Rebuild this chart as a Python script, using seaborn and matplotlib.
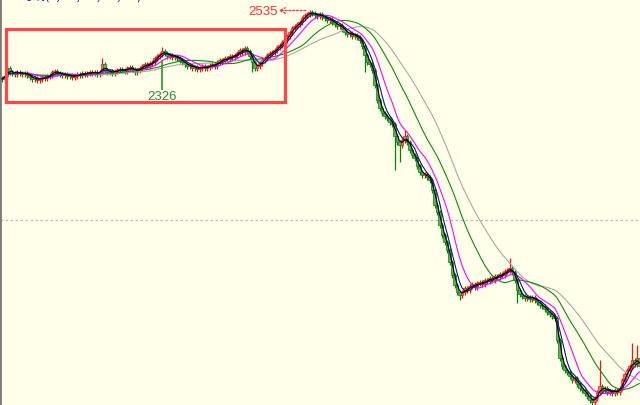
import numpy as np
import pandas as pd
import matplotlib
matplotlib.use("Agg")
import matplotlib.pyplot as plt
import matplotlib.patches as mpatches
import seaborn as sns

# ---------------- data ----------------
closes = [
    2259, 2271, 2303, 2287, 2283, 2279, 2287, 2283, 2279, 2283,
    2275, 2267, 2259, 2263, 2255, 2259, 2267, 2263, 2271, 2275,
    2287, 2291, 2283, 2279, 2275, 2279, 2271, 2275, 2267, 2271,
    2279, 2275, 2283, 2279, 2283, 2287, 2283, 2287, 2279, 2287,
    2319, 2295, 2287, 2291, 2283, 2291, 2295, 2299, 2295, 2291,
    2303, 2307, 2299, 2287, 2295, 2303, 2311, 2319, 2311, 2323,
    2327, 2343, 2351, 2359, 2371, 2363, 2351, 2355, 2347, 2351,
    2343, 2335, 2327, 2319, 2311, 2315, 2303, 2307, 2299, 2303,
    2311, 2303, 2307, 2315, 2319, 2311, 2327, 2335, 2331, 2343,
    2339, 2351, 2347, 2355, 2363, 2375, 2367, 2383, 2371, 2351,
    2327, 2303, 2311, 2323, 2335, 2343, 2355, 2363, 2367, 2375,
    2387, 2395, 2407, 2415, 2431, 2447, 2463, 2471, 2479, 2487,
    2503, 2515, 2519, 2527, 2523, 2515, 2511, 2519, 2507, 2503,
    2495, 2499, 2487, 2479, 2471, 2475, 2459, 2447, 2439, 2443,
    2431, 2435, 2427, 2415, 2391, 2355, 2327, 2319, 2295, 2235,
    2175, 2143, 2123, 2111, 2103, 2087, 2079, 2031, 2007, 1995,
    2015, 2031, 2007, 1975, 1955, 1943, 1911, 1887, 1875, 1879,
    1867, 1855, 1815, 1755, 1727, 1675, 1635, 1607, 1575, 1527,
    1475, 1435, 1407, 1395, 1407, 1423, 1415, 1431, 1439, 1427,
    1443, 1447, 1439, 1455, 1451, 1463, 1455, 1471, 1467, 1479,
    1475, 1491, 1495, 1503, 1487, 1455, 1415, 1399, 1391, 1383,
    1387, 1379, 1387, 1375, 1367, 1355, 1351, 1339, 1327, 1319,
    1311, 1303, 1215, 1143, 1111, 1095, 1087, 1071, 1055, 1063,
    1039, 1023, 1015, 1003, 991, 975, 967, 983, 1007, 1031,
    1015, 1023, 1007, 1011, 1003, 1015, 1007, 1023, 1055, 1079,
    1095, 1111, 1135, 1119, 1143, 1111,
]
first_open = 2263
spike_highs = {2: 2315, 40: 2343, 64: 2387, 97: 2391, 123: 2535, 161: 2055,
               203: 1543, 239: 1135, 252: 1203, 254: 1195}
spike_lows = {100: 2287, 145: 2287, 157: 1895, 159: 1927, 183: 1375, 206: 1363}
ma_periods = [3, 5, 10, 22, 34]
ma_colors = ["#000000", "#1010A0", "#FF00FF", "#108A10", "#A8A8A8"]
high_label = "2535"
low_label = "2326"
low_mark_index = 64
header_text = "均线(5, 10, 20, 30, 60)"

# ---------------- derived ----------------
n = len(closes)
idx = np.arange(n)
c = np.array(closes, dtype=float)
o = np.concatenate([[first_open], c[:-1]])
hi = np.maximum(o, c) + 10
lo = np.minimum(o, c) - 10
for k, v in spike_highs.items():
    hi[k] = v
for k, v in spike_lows.items():
    lo[k] = v

df = pd.DataFrame({"idx": idx, "close": c})
for p in ma_periods:
    df[f"MA{p}"] = df["close"].rolling(p, min_periods=1).mean()
long = df.melt(id_vars="idx", value_vars=[f"MA{p}" for p in ma_periods],
               var_name="ma", value_name="val")

# ---------------- plot ----------------
bg = "#FFFFEA"
sns.set_style("white")
plt.rcParams["font.family"] = ["Liberation Sans", "Noto Sans CJK SC", "DejaVu Sans"]

fig = plt.figure(figsize=(6.4, 4.05), dpi=100, facecolor=bg)
ax = fig.add_axes([0, 0, 1, 1])
ax.set_facecolor(bg)

ax.set_xlim(-0.8, 255.2)
ax.set_ylim(955, 2575)

ax.axhline(1695, color="#BDBDBD", lw=0.9, ls=(0, (2, 2)), zorder=0)

up = c >= o
col_up_edge, col_up_body = "#FF1010", "#FF6A6A"
col_dn_edge, col_dn_body = "#0A800A", "#5DB05D"
ax.vlines(idx[up], lo[up], hi[up], color=col_up_edge, lw=0.9, zorder=2)
ax.vlines(idx[~up], lo[~up], hi[~up], color=col_dn_edge, lw=0.9, zorder=2)
body_h = np.maximum(np.abs(c - o), 6)
ax.bar(idx[up], body_h[up], bottom=np.minimum(o, c)[up] - 1, width=0.85,
       color=col_up_body, edgecolor=col_up_edge, linewidth=0.5, zorder=3)
ax.bar(idx[~up], body_h[~up], bottom=np.minimum(o, c)[~up] - 1, width=0.85,
       color=col_dn_body, edgecolor=col_dn_edge, linewidth=0.5, zorder=3)

sns.lineplot(data=long, x="idx", y="val", hue="ma",
             hue_order=[f"MA{p}" for p in ma_periods][::-1],
             palette=dict(zip([f"MA{p}" for p in ma_periods], ma_colors)),
             estimator=None, linewidth=0.8, legend=False, ax=ax, zorder=4)

# high marker
ax.annotate("", xy=(110.6, 2533), xytext=(121.5, 2533),
            arrowprops=dict(arrowstyle="->", color="#FF3030", lw=0.9,
                            ls=(0, (1.5, 1.5)), shrinkA=0, shrinkB=0), zorder=6)
ax.text(110.2, 2527, high_label, color="#FF3030", fontsize=9.5,
        ha="right", va="center", zorder=6)

# low marker
ax.vlines(low_mark_index, 2215, 2335, color="#3C9A3C", lw=1.3, zorder=5)
ax.text(low_mark_index, 2185, low_label, color="#2E8B3A", fontsize=9.5,
        ha="center", va="center", zorder=6)

# red highlight rectangle (figure pixels)
W, H = 640, 405
rect = mpatches.Rectangle((5.5 / W, 1 - 102 / H), (285 - 5.5) / W, (102 - 29.5) / H,
                          transform=fig.transFigure, fill=False,
                          edgecolor="#FF4545", lw=2.3, zorder=10)
fig.patches.append(rect)

# header text, cut by the top edge as in the screenshot
fig.text(20 / W, 1 + 0.8 / H, header_text, color="#1A1AB0", fontsize=9,
         ha="left", va="baseline",
         family=["Noto Sans CJK SC", "DejaVu Sans"])

for s in ["top", "right", "bottom"]:
    ax.spines[s].set_visible(False)
ax.spines["left"].set_color("#7A7A7A")
ax.spines["left"].set_linewidth(2.0)
ax.set_xticks([])
ax.set_yticks([])
ax.set_xlabel("")
ax.set_ylabel("")

fig.savefig("out.png", dpi=100, facecolor=bg)
